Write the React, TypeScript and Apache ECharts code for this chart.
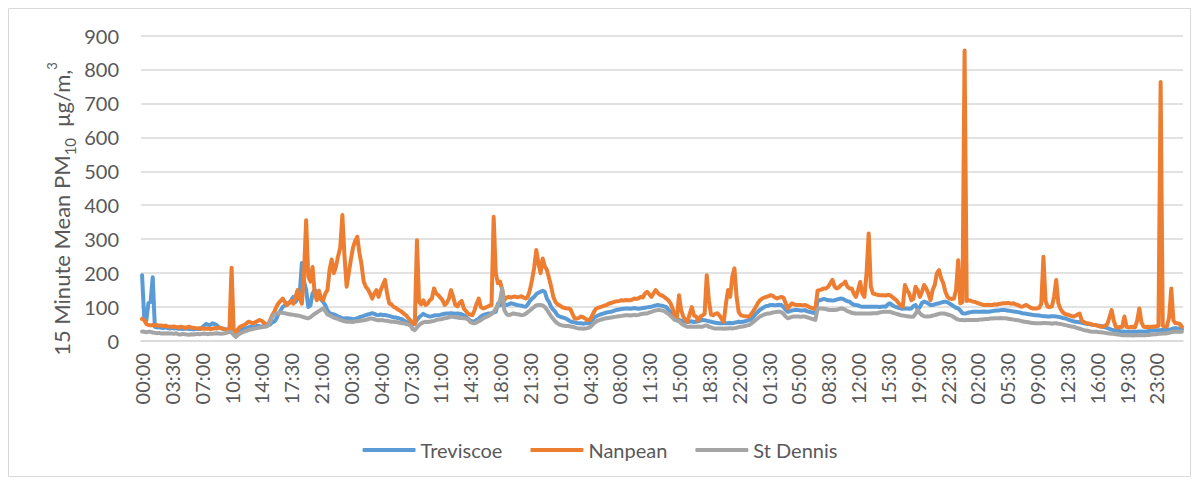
import React, { useEffect, useRef } from "react";
import * as echarts from "echarts";

const seriesNames = ["Treviscoe", "Nanpean", "St Dennis"];
const seriesColors = ["#5B9BD5", "#ED7D31", "#A5A5A5"];
const yMin = 0;
const yMax = 900;
const yStep = 100;
const labelEvery = 14;

// 15-minute means, starting 00:00 (one row per 3.5 h)
const treviscoe = [
  194, 70, 60, 112, 115, 188, 42, 40, 41, 39, 38, 40, 38, 37,
  38, 37, 38, 36, 37, 35, 36, 37, 35, 36, 34, 35, 36, 35,
  38, 45, 50, 48, 47, 52, 50, 47, 40, 38, 36, 35, 34, 32,
  30, 20, 13, 20, 30, 35, 37, 38, 40, 42, 40, 42, 45, 44,
  42, 44, 45, 46, 48, 55, 57, 65, 80, 90, 100, 105, 110, 112,
  120, 130, 115, 125, 140, 230, 175, 150, 100, 105, 140, 150, 145, 135,
  122, 115, 105, 90, 82, 80, 78, 76, 72, 70, 67, 66, 67, 66,
  66, 64, 65, 67, 70, 72, 74, 76, 78, 80, 82, 80, 77, 76,
  78, 76, 77, 75, 74, 72, 70, 69, 68, 66, 64, 60, 56, 55,
  55, 48, 52, 62, 70, 75, 80, 76, 74, 72, 73, 75, 76, 76,
  77, 79, 80, 81, 81, 82, 81, 80, 81, 80, 79, 76, 70, 66,
  60, 57, 58, 62, 66, 72, 76, 78, 80, 81, 82, 84, 86, 110,
  105, 112, 108, 106, 108, 111, 110, 108, 106, 105, 104, 102, 101, 108,
  118, 125, 130, 138, 142, 145, 148, 145, 125, 115, 100, 92, 85, 75,
  72, 70, 68, 66, 62, 58, 56, 55, 53, 52, 52, 51, 52, 52,
  52, 58, 68, 72, 75, 78, 80, 82, 84, 85, 86, 88, 90, 92,
  93, 94, 95, 96, 96, 95, 96, 97, 96, 95, 96, 97, 98, 99,
  100, 101, 103, 105, 106, 105, 104, 102, 100, 92, 84, 76, 68, 64,
  62, 60, 58, 57, 56, 57, 58, 56, 57, 58, 60, 62, 61, 60,
  58, 57, 55, 54, 53, 52, 52, 53, 52, 52, 53, 52, 54, 55,
  57, 56, 57, 58, 60, 62, 66, 72, 80, 86, 92, 96, 100, 103,
  104, 106, 106, 105, 106, 107, 106, 100, 92, 86, 88, 90, 91, 91,
  91, 90, 90, 91, 88, 86, 85, 83, 82, 118, 120, 122, 124, 122,
  120, 120, 119, 120, 122, 124, 125, 124, 120, 117, 116, 110, 107, 106,
  105, 102, 101, 101, 101, 101, 101, 101, 101, 101, 100, 101, 102, 101,
  108, 111, 106, 102, 100, 98, 96, 95, 96, 96, 95, 96, 103, 106,
  92, 100, 112, 116, 114, 110, 106, 106, 108, 110, 111, 113, 115, 116,
  114, 110, 106, 102, 98, 96, 90, 82, 81, 82, 84, 85, 86, 86,
  86, 86, 86, 87, 86, 86, 87, 88, 89, 90, 90, 91, 91, 91,
  90, 89, 88, 87, 86, 85, 84, 82, 81, 80, 79, 78, 77, 76,
  76, 75, 74, 73, 73, 72, 72, 73, 73, 72, 71, 70, 68, 67,
  65, 62, 60, 58, 57, 56, 55, 54, 52, 51, 50, 49, 48, 47,
  46, 45, 44, 42, 40, 38, 36, 33, 32, 31, 30, 29, 28, 27,
  27, 27, 27, 28, 27, 27, 28, 28, 27, 28, 29, 30, 31, 32,
  32, 32, 32, 33, 32, 33, 34, 35, 37, 38, 37, 36, 35,
];

const nanpean = [
  65, 62, 50, 47, 46, 47, 46, 47, 45, 46, 44, 45, 43, 42,
  42, 43, 41, 40, 42, 41, 39, 40, 42, 40, 39, 38, 37, 38,
  37, 36, 36, 37, 35, 36, 38, 37, 40, 38, 36, 34, 33, 32,
  216, 30, 22, 35, 42, 45, 47, 52, 57, 55, 52, 55, 58, 62,
  60, 55, 50, 47, 60, 75, 85, 100, 111, 118, 125, 115, 106, 112,
  118, 110, 130, 150, 125, 110, 200, 356, 190, 175, 218, 140, 120, 148,
  125, 120, 140, 150, 210, 240, 200, 220, 250, 275, 371, 250, 160, 200,
  240, 275, 295, 307, 260, 225, 175, 160, 152, 140, 125, 140, 150, 130,
  150, 165, 180, 140, 111, 108, 101, 98, 93, 90, 85, 80, 75, 67,
  60, 52, 50, 297, 115, 108, 120, 106, 110, 120, 125, 155, 140, 135,
  128, 120, 106, 112, 125, 150, 130, 106, 102, 112, 118, 96, 88, 80,
  78, 76, 90, 110, 125, 100, 96, 98, 101, 104, 106, 366, 200, 170,
  175, 150, 120, 128, 130, 128, 130, 131, 129, 130, 132, 128, 125, 130,
  150, 180, 215, 268, 230, 200, 243, 220, 209, 185, 160, 130, 115, 108,
  105, 100, 98, 96, 96, 94, 80, 67, 66, 68, 72, 70, 66, 62,
  62, 72, 85, 95, 98, 100, 102, 104, 106, 110, 112, 114, 116, 117,
  118, 120, 119, 121, 120, 120, 122, 125, 124, 126, 130, 128, 140, 145,
  138, 130, 140, 150, 142, 136, 134, 130, 125, 120, 111, 95, 75, 67,
  135, 90, 72, 62, 57, 80, 100, 75, 72, 60, 72, 75, 80, 194,
  120, 78, 76, 80, 82, 75, 65, 57, 110, 150, 130, 190, 214, 130,
  85, 76, 74, 73, 72, 72, 80, 90, 100, 112, 120, 125, 128, 130,
  132, 135, 133, 128, 125, 128, 130, 128, 112, 96, 104, 111, 108, 106,
  106, 106, 105, 106, 104, 100, 98, 96, 95, 148, 150, 152, 155, 155,
  160, 170, 180, 160, 155, 158, 165, 168, 175, 160, 155, 155, 140, 130,
  150, 174, 140, 130, 200, 317, 160, 140, 138, 136, 135, 135, 135, 134,
  136, 135, 130, 125, 120, 112, 105, 101, 165, 150, 140, 120, 125, 160,
  150, 130, 145, 165, 155, 140, 120, 150, 165, 200, 209, 185, 170, 145,
  130, 125, 124, 125, 150, 238, 111, 115, 856, 118, 120, 118, 116, 115,
  112, 110, 108, 106, 106, 107, 106, 106, 108, 107, 109, 110, 111, 111,
  112, 111, 110, 111, 108, 106, 102, 101, 104, 106, 102, 98, 96, 96,
  96, 98, 110, 248, 118, 101, 100, 102, 130, 180, 111, 95, 85, 80,
  78, 76, 74, 72, 74, 78, 81, 60, 56, 53, 52, 50, 48, 47,
  46, 44, 42, 43, 45, 50, 70, 91, 60, 42, 40, 41, 42, 72,
  42, 40, 41, 42, 40, 60, 96, 55, 42, 41, 42, 41, 42, 43,
  43, 45, 763, 45, 42, 44, 70, 155, 60, 52, 52, 50, 42,
];

const stDennis = [
  28, 27, 26, 27, 27, 25, 24, 23, 24, 22, 23, 22, 23, 22,
  22, 21, 23, 20, 19, 21, 20, 19, 18, 20, 19, 20, 21, 20,
  21, 22, 21, 20, 22, 21, 22, 23, 22, 21, 22, 23, 25, 27,
  25, 18, 13, 18, 22, 25, 28, 30, 32, 34, 35, 37, 38, 40,
  40, 42, 42, 45, 55, 70, 78, 80, 82, 84, 83, 82, 80, 79,
  78, 77, 76, 75, 74, 72, 70, 68, 67, 70, 75, 80, 84, 88,
  92, 96, 88, 78, 75, 72, 69, 67, 65, 62, 60, 58, 57, 57,
  57, 56, 58, 58, 59, 60, 61, 62, 64, 66, 66, 64, 62, 61,
  62, 61, 60, 60, 58, 57, 57, 56, 55, 54, 52, 52, 50, 48,
  45, 35, 32, 40, 47, 52, 55, 57, 56, 57, 58, 59, 62, 63,
  64, 65, 67, 68, 70, 72, 71, 70, 69, 68, 68, 67, 66, 64,
  56, 53, 52, 55, 58, 62, 66, 70, 72, 75, 80, 85, 95, 105,
  120, 155, 91, 80, 76, 78, 81, 80, 79, 78, 76, 77, 80, 85,
  90, 95, 100, 105, 106, 106, 105, 100, 92, 82, 72, 65, 57, 52,
  48, 46, 45, 44, 44, 43, 42, 40, 38, 37, 37, 36, 37, 38,
  40, 45, 52, 57, 60, 62, 64, 66, 67, 68, 69, 70, 71, 72,
  73, 74, 75, 76, 76, 75, 76, 77, 76, 77, 79, 80, 81, 81,
  84, 86, 88, 90, 91, 91, 90, 88, 84, 80, 74, 68, 62, 60,
  58, 52, 47, 44, 42, 42, 43, 42, 42, 43, 42, 42, 45, 46,
  42, 40, 38, 37, 37, 37, 37, 36, 37, 37, 38, 37, 38, 39,
  41, 42, 43, 44, 46, 47, 52, 57, 62, 67, 72, 75, 78, 80,
  81, 82, 84, 85, 86, 86, 85, 80, 72, 67, 69, 71, 72, 72,
  72, 71, 72, 72, 70, 68, 66, 64, 62, 94, 96, 96, 95, 94,
  92, 91, 91, 91, 92, 94, 96, 95, 92, 88, 86, 83, 82, 81,
  81, 81, 81, 81, 81, 81, 81, 82, 82, 82, 84, 85, 86, 86,
  86, 86, 84, 82, 80, 78, 76, 75, 74, 73, 72, 71, 72, 80,
  91, 82, 76, 73, 72, 72, 73, 75, 76, 78, 80, 81, 81, 80,
  78, 76, 74, 70, 66, 63, 62, 62, 61, 62, 62, 62, 62, 62,
  62, 63, 63, 64, 65, 65, 66, 66, 67, 67, 67, 68, 67, 67,
  66, 65, 64, 63, 62, 61, 60, 58, 57, 56, 55, 54, 53, 52,
  52, 52, 52, 53, 53, 52, 52, 51, 52, 52, 51, 50, 49, 47,
  46, 44, 43, 42, 40, 38, 36, 34, 32, 31, 30, 28, 27, 27,
  27, 26, 26, 25, 24, 23, 22, 21, 21, 20, 19, 18, 17, 17,
  17, 17, 17, 16, 17, 17, 17, 17, 17, 17, 18, 18, 19, 20,
  20, 21, 21, 22, 22, 23, 24, 26, 27, 27, 28, 27, 27,
];

const pad = (n: number) => (n < 10 ? "0" + n : "" + n);
const categories = treviscoe.map((_, i) => {
  const m = (i * 15) % 1440;
  return pad(Math.floor(m / 60)) + ":" + pad(m % 60);
});

const FONT = "Lato";
const TEXT = "#595959";
const GRID = "#d9d9d9";

export default function App() {
  const ref = useRef<HTMLDivElement>(null);
  useEffect(() => {
    const chart = echarts.init(ref.current!, null, { renderer: "svg" });
    const data = [treviscoe, nanpean, stDennis];
    chart.setOption({
      animation: false,
      textStyle: { fontFamily: FONT },
      grid: { left: 133, right: 9, top: 27.5, bottom: 137, containLabel: false },
      legend: {
        top: 427,
        left: "center",
        icon: "roundRect",
        itemWidth: 53,
        itemHeight: 4,
        itemGap: 28,
        textStyle: { fontSize: 20, color: TEXT, fontFamily: FONT },
        data: seriesNames,
      },
      xAxis: {
        type: "category",
        data: categories,
        boundaryGap: true,
        axisLine: { show: true, lineStyle: { color: GRID, width: 1.5 } },
        axisTick: { show: false },
        axisLabel: {
          interval: labelEvery - 1,
          rotate: 90,
          fontSize: 20,
          color: TEXT,
          fontFamily: FONT,
          margin: 12,
        },
        splitLine: { show: false },
      },
      yAxis: {
        type: "value",
        min: yMin,
        max: yMax,
        interval: yStep,
        axisLine: { show: false },
        axisTick: { show: false },
        splitLine: { lineStyle: { color: GRID, width: 1.5 } },
        axisLabel: { fontSize: 20, color: TEXT, fontFamily: FONT, margin: 22 },
      },
      series: seriesNames.map((name, k) => ({
        name,
        type: "line",
        data: data[k],
        symbol: "none",
        showSymbol: false,
        color: seriesColors[k],
        lineStyle: { width: 4, color: seriesColors[k], cap: "round", join: "round" },
        itemStyle: { color: seriesColors[k] },
        z: 2 + k,
      })),
      graphic: [
        {
          type: "rect",
          shape: { x: 0.5, y: 0.5, width: 1182, height: 468 },
          style: { fill: "none", stroke: GRID, lineWidth: 1 },
          silent: true,
        },
        {
          type: "text",
          x: 53,
          y: 201,
          rotation: Math.PI / 2,
          style: {
            text: "{a|15 Minute Mean PM}{sub|10}{a|  μg/m,}{sup|3}",
            align: "center",
            verticalAlign: "middle",
            fill: TEXT,
            fontFamily: FONT,
            rich: {
              a: { fontSize: 22, lineHeight: 32, fill: TEXT, fontFamily: FONT },
              sub: { fontSize: 15, lineHeight: 32, verticalAlign: "bottom", fill: TEXT, fontFamily: FONT },
              sup: { fontSize: 13, lineHeight: 32, verticalAlign: "top", fill: TEXT, fontFamily: FONT },
            },
          },
          silent: true,
        },
      ],
    });
    return () => chart.dispose();
  }, []);
  return <div ref={ref} style={{ width: 1184, height: 470 }} />;
}
